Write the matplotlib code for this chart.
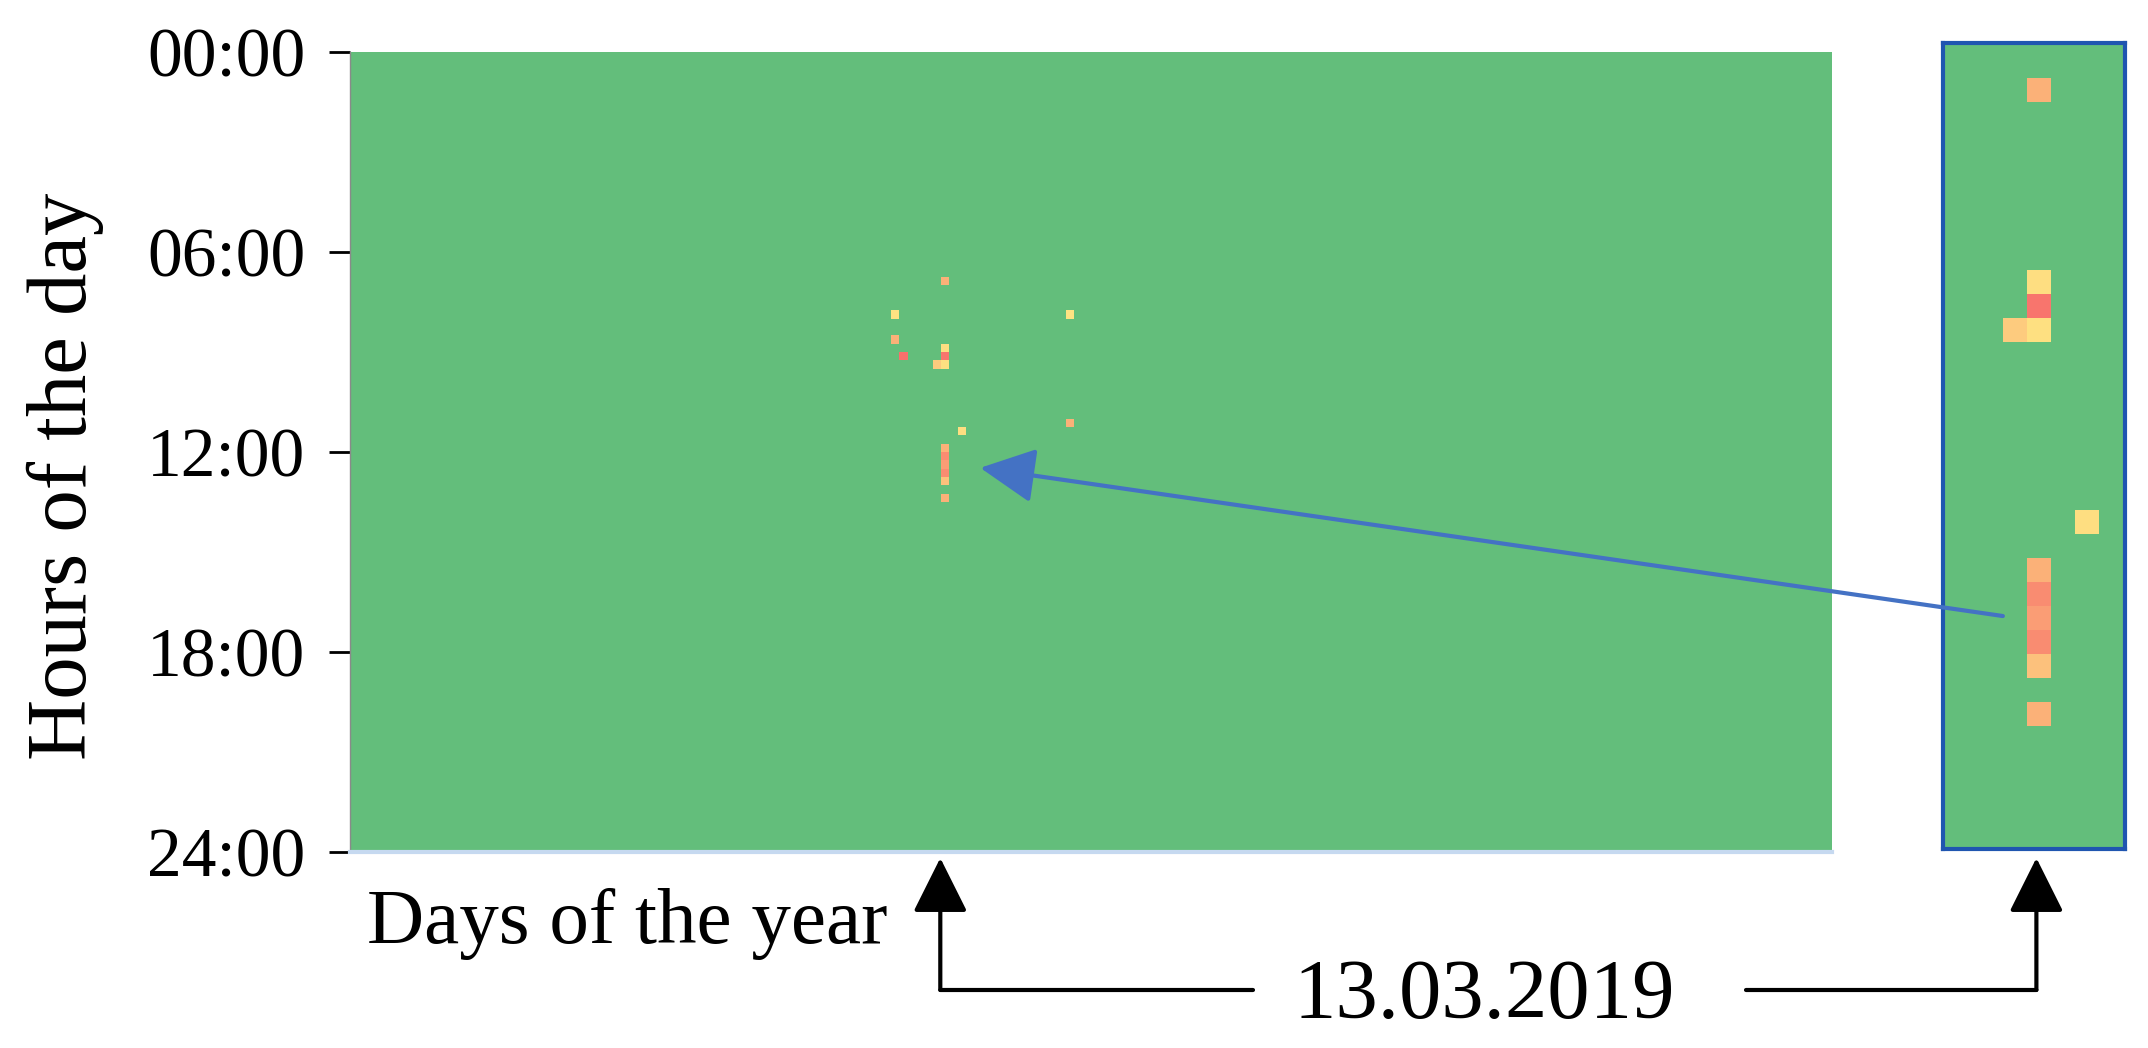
import numpy as np
import matplotlib
matplotlib.use("Agg")
import matplotlib.pyplot as plt
from matplotlib.colors import LinearSegmentedColormap
from matplotlib.patches import ConnectionPatch

# ---------------- data ----------------
n_days = 178            # days shown on the x axis (from 1 January 2019)
slots_per_day = 96      # 15-minute slots
anomaly_days = [71, 65, 65, 66, 71, 71, 70, 71, 86, 86, 73, 71, 71, 71, 71, 71, 71]
anomaly_slots = [27, 31, 34, 36, 35, 36, 37, 37, 31, 44, 45, 47, 48, 49, 50, 51, 53]
anomaly_scores = [0.72, 0.53, 0.72, 0.97, 0.55, 0.95, 0.62, 0.54, 0.53, 0.72,
                  0.55, 0.72, 0.86, 0.80, 0.86, 0.66, 0.72]
hour_ticks = [0, 6, 12, 18, 24]
hour_labels = ["00:00", "06:00", "12:00", "18:00", "24:00"]
highlight_day = 71      # 13.03.2019
highlight_label = "13.03.2019"

grid = np.zeros((slots_per_day, n_days))
for d, s, v in zip(anomaly_days, anomaly_slots, anomaly_scores):
    grid[s, d] = v

cmap = LinearSegmentedColormap.from_list("excel3", ["#63BE7B", "#FFEB84", "#F8696B"])

plt.rcParams["font.family"] = ["Liberation Serif", "DejaVu Serif"]

W, H = 2148, 1048
fig = plt.figure(figsize=(W / 100, H / 100), dpi=100)


def fx(px):
    return px / W


def fy(py):
    return 1 - py / H


# ---------------- main heatmap ----------------
ax = fig.add_axes([fx(350), fy(852), (1832 - 350) / W, (852 - 52) / H])
ax.imshow(grid, cmap=cmap, vmin=0, vmax=1, extent=(0, n_days, 24, 0),
          aspect="auto", interpolation="nearest")
ax.set_xticks([])
ax.set_yticks(hour_ticks)
ax.set_yticklabels(hour_labels)
ax.tick_params(axis="y", length=15, width=2, pad=17, labelsize=50, colors="black")
for side in ("top", "right"):
    ax.spines[side].set_visible(False)
ax.spines["bottom"].set_color("#C6D9F0")
ax.spines["bottom"].set_linewidth(3)
ax.spines["left"].set_color("#8a8a8a")
ax.spines["left"].set_linewidth(1)

# ---------------- zoomed inset ----------------
axins = fig.add_axes([fx(1943), fy(849), (2125 - 1943) / W, (849 - 43) / H])
axins.imshow(grid, cmap=cmap, vmin=0, vmax=1, extent=(0, n_days, 24, 0),
             aspect="auto", interpolation="nearest")
axins.set_xlim(67.5, 75.1)
axins.set_ylim(59.1 / 4, 25.54 / 4)
axins.set_xticks([])
axins.set_yticks([])
for sp in axins.spines.values():
    sp.set_color("#1F55B0")
    sp.set_linewidth(3)

# ---------------- texts ----------------
fig.text(fx(65), fy(476), "Hours of the day", rotation=90, ha="center", va="center",
         fontsize=61)
fig.text(fx(367), fy(943), "Days of the year", ha="left", va="baseline", fontsize=57)
fig.text(fx(1484), fy(1018), highlight_label, ha="center", va="baseline", fontsize=61)

# ---------------- black connector arrows ----------------
head = dict(arrowstyle="-|>,head_length=1.7,head_width=0.85", mutation_scale=20,
            lw=3, color="black", shrinkA=0, shrinkB=0)
line = dict(arrowstyle="-", lw=3, color="black", shrinkA=0, shrinkB=0)

x_main = highlight_day - 0.1
ax.annotate("", xy=(x_main, fy(858)), xycoords=("data", "figure fraction"),
            xytext=(x_main, fy(990)), textcoords=("data", "figure fraction"),
            arrowprops=head, annotation_clip=False)
ax.annotate("", xy=(x_main, fy(990)), xycoords=("data", "figure fraction"),
            xytext=(fx(1253), fy(990)), textcoords="figure fraction",
            arrowprops=line, annotation_clip=False)

x_ins = highlight_day + 0.4
axins.annotate("", xy=(x_ins, fy(858)), xycoords=("data", "figure fraction"),
               xytext=(x_ins, fy(990)), textcoords=("data", "figure fraction"),
               arrowprops=head, annotation_clip=False)
axins.annotate("", xy=(x_ins, fy(990)), xycoords=("data", "figure fraction"),
               xytext=(fx(1746), fy(990)), textcoords="figure fraction",
               arrowprops=line, annotation_clip=False)

# ---------------- blue arrow from inset to main ----------------
con = ConnectionPatch(xyA=(70.0, 49.4 / 4), coordsA=axins.transData,
                      xyB=(75.7, 49.9 / 4), coordsB=ax.transData,
                      arrowstyle="-|>,head_length=1.7,head_width=0.85",
                      mutation_scale=20, lw=3, color="#4472C4",
                      shrinkA=0, shrinkB=0)
fig.add_artist(con)

fig.savefig("out.png", dpi=100)
